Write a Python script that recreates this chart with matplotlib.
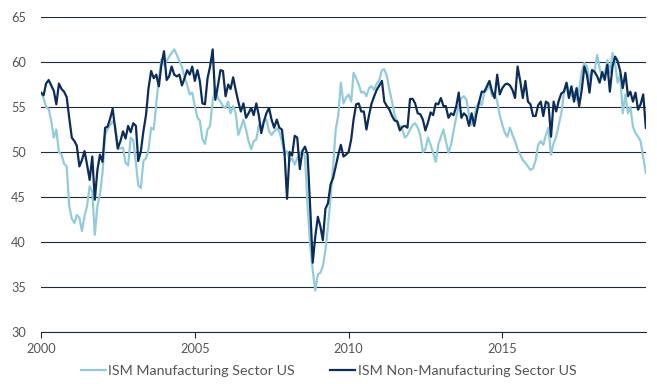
import matplotlib
matplotlib.use("Agg")
import matplotlib.pyplot as plt
import matplotlib.dates as mdates
import pandas as pd

# Monthly values, Jan 2000 - Sep 2019
manufacturing = [
    # 2000
    56.6, 56.0, 55.0, 54.8, 53.5, 51.6, 52.5, 50.0, 49.7, 48.7, 48.4, 44.0,
    # 2001
    42.6, 42.1, 43.0, 42.7, 41.2, 42.9, 44.0, 46.2, 45.6, 40.8, 44.0, 45.3,
    # 2002
    47.7, 51.9, 52.5, 53.0, 53.4, 53.0, 50.3, 50.4, 50.5, 48.8, 48.5, 51.6,
    # 2003
    51.3, 48.8, 46.3, 46.0, 49.0, 49.3, 50.3, 52.7, 52.5, 55.4, 58.2, 60.3,
    # 2004
    59.7, 60.1, 60.6, 61.0, 61.4, 60.8, 60.1, 59.5, 58.2, 57.5, 56.4, 56.6,
    # 2005
    55.1, 53.8, 53.5, 51.4, 50.9, 52.5, 52.9, 55.7, 57.2, 56.0, 55.6, 55.1,
    # 2006
    54.9, 55.6, 54.3, 55.1, 54.3, 51.9, 52.7, 53.6, 52.5, 51.2, 50.3, 51.2,
    # 2007
    51.4, 53.0, 52.6, 53.4, 53.6, 52.3, 51.9, 52.3, 52.6, 52.3, 51.2, 49.7,
    # 2008
    50.1, 49.0, 49.3, 48.6, 49.3, 49.7, 50.1, 49.5, 44.0, 39.7, 36.9, 34.6,
    # 2009
    36.4, 36.6, 37.3, 39.1, 41.7, 45.0, 48.4, 52.5, 54.1, 57.7, 55.4, 56.0,
    # 2010
    56.4, 55.6, 58.8, 58.2, 57.5, 56.6, 56.7, 56.2, 57.1, 57.3, 56.9, 57.6,
    # 2011
    58.0, 59.1, 59.2, 58.4, 56.9, 55.6, 54.1, 53.4, 52.9, 52.5, 51.6, 51.9,
    # 2012
    52.5, 53.0, 53.2, 52.7, 51.9, 50.0, 50.3, 51.6, 50.8, 49.9, 48.9, 50.8,
    # 2013
    51.7, 52.5, 51.2, 49.9, 50.8, 52.3, 53.8, 55.1, 56.0, 56.2, 55.8, 54.1,
    # 2014
    53.0, 53.8, 55.1, 55.6, 55.2, 56.6, 56.9, 57.5, 56.2, 56.6, 55.6, 54.1,
    # 2015
    53.0, 52.1, 51.7, 52.7, 51.9, 51.2, 50.3, 49.7, 49.1, 48.8, 48.4, 48.0,
    # 2016
    48.2, 49.1, 50.8, 51.2, 50.8, 51.9, 52.7, 49.7, 51.0, 51.7, 53.0, 54.3,
    # 2017
    56.5, 57.7, 56.9, 56.2, 56.7, 55.8, 56.9, 59.0, 59.9, 59.5, 58.0, 59.1,
    # 2018
    59.1, 60.8, 59.3, 58.3, 58.7, 60.2, 58.8, 61.0, 59.8, 57.7, 58.6, 54.3,
    # 2019
    56.4, 54.3, 55.0, 52.8, 52.1, 51.7, 51.2, 49.4, 47.7,
]

non_manufacturing = [
    # 2000
    56.6, 56.3, 57.6, 58.0, 57.4, 56.8, 55.3, 57.6, 57.0, 56.7, 56.1, 53.8,
    # 2001
    51.6, 51.2, 50.7, 48.4, 49.1, 50.1, 48.6, 46.9, 49.5, 44.7, 48.0, 49.7,
    # 2002
    48.9, 52.7, 52.8, 53.7, 54.8, 52.5, 50.4, 51.2, 52.3, 51.5, 52.9, 52.2,
    # 2003
    53.2, 52.9, 49.0, 50.1, 52.3, 54.1, 57.1, 59.0, 58.2, 58.6, 57.3, 59.7,
    # 2004
    61.2, 58.0, 58.4, 59.5, 58.6, 58.4, 58.6, 57.4, 58.2, 59.1, 58.6, 59.5,
    # 2005
    57.9, 59.1, 57.9, 55.4, 55.3, 58.2, 59.5, 61.4, 55.8, 57.3, 59.1, 59.0,
    # 2006
    56.2, 57.5, 57.0, 58.3, 56.9, 55.6, 54.5, 55.4, 53.8, 54.3, 54.9, 54.1,
    # 2007
    55.4, 54.0, 52.1, 53.4, 54.3, 54.9, 53.6, 52.7, 53.6, 52.7, 52.5, 50.1,
    # 2008
    44.8, 50.0, 49.6, 51.8, 51.6, 48.1, 50.1, 50.6, 49.7, 44.0, 37.7, 40.6,
    # 2009
    42.8, 41.7, 40.2, 43.7, 44.3, 46.4, 47.1, 48.4, 49.7, 50.8, 49.5, 49.7,
    # 2010
    50.0, 51.4, 53.6, 55.3, 55.4, 54.5, 54.5, 52.5, 54.1, 55.4, 56.2, 56.9,
    # 2011
    57.4, 57.9, 55.6, 55.1, 54.7, 54.0, 53.5, 53.4, 52.4, 52.8, 52.9, 52.7,
    # 2012
    55.9, 55.9, 55.4, 54.3, 54.2, 53.6, 52.4, 53.3, 54.4, 54.1, 55.4, 55.3,
    # 2013
    56.0, 55.1, 55.1, 53.8, 54.3, 54.1, 55.0, 56.6, 53.8, 54.3, 54.0, 52.9,
    # 2014
    54.3, 52.9, 54.3, 55.6, 56.7, 56.7, 57.3, 57.9, 56.7, 56.0, 58.6, 56.4,
    # 2015
    57.1, 57.5, 57.6, 57.4, 56.9, 56.0, 59.5, 57.9, 56.0, 57.9, 55.6, 55.3,
    # 2016
    54.0, 54.0, 55.2, 55.6, 54.0, 55.6, 55.4, 51.7, 55.6, 54.5, 55.7, 56.5,
    # 2017
    56.7, 57.7, 56.0, 57.3, 55.6, 57.1, 55.1, 56.9, 59.5, 58.6, 56.6, 59.1,
    # 2018
    58.9, 58.4, 57.7, 58.9, 58.0, 59.7, 56.7, 59.5, 60.6, 60.1, 59.0, 57.1,
    # 2019
    58.8, 56.2, 56.7, 55.6, 56.6, 54.7, 55.3, 56.4, 52.7,
]

dates = pd.date_range("2000-01-01", periods=len(manufacturing), freq="MS")
year_ticks = [2000, 2005, 2010, 2015]
y_ticks = [30, 35, 40, 45, 50, 55, 60, 65]

LIGHT = "#93cbdb"
DARK = "#0c2d5a"
GRID = "#1d2b3b"
LABEL = "#555555"

plt.rcParams["font.family"] = ["Lato", "DejaVu Sans"]

fig = plt.figure(figsize=(6.57, 3.84), dpi=100)
ax = fig.add_axes([0.0624, 0.1354, 0.9206, 0.8203])

ax.plot(dates, manufacturing, color=LIGHT, lw=1.6, label="ISM Manufacturing Sector US")
ax.plot(dates, non_manufacturing, color=DARK, lw=1.6, label="ISM Non-Manufacturing Sector US")

ax.set_ylim(30, 65)
ax.set_xlim(dates[0], dates[-1])
ax.set_yticks(y_ticks)
ax.set_xticks([pd.Timestamp(f"{y}-01-01") for y in year_ticks])
ax.xaxis.set_major_formatter(mdates.DateFormatter("%Y"))

for sp in ["top", "right", "left"]:
    ax.spines[sp].set_visible(False)
ax.spines["bottom"].set_color(GRID)
ax.spines["bottom"].set_linewidth(0.8)
ax.yaxis.grid(True, color=GRID, lw=0.8)
ax.set_axisbelow(True)

ax.tick_params(axis="y", length=0, pad=11, labelsize=9.2, labelcolor=LABEL)
ax.tick_params(axis="x", length=4, width=0.8, color=GRID, pad=4,
               labelsize=9.2, labelcolor=LABEL)

fig.legend(loc="lower center", bbox_to_anchor=(0.5, -0.015), ncol=2, frameon=False,
           fontsize=10.3, handlelength=1.75, handletextpad=0.15, columnspacing=2.5,
           labelcolor=LABEL)

fig.savefig("out.png", dpi=100, facecolor="white")
